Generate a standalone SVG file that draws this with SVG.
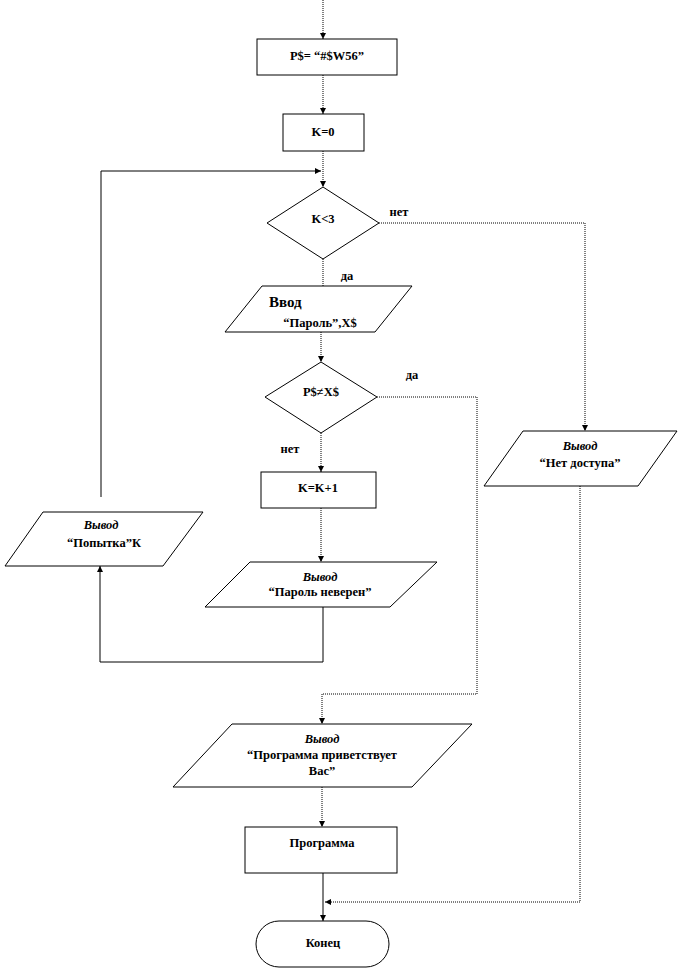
<svg xmlns="http://www.w3.org/2000/svg" width="681" height="970" viewBox="0 0 681 970">
<defs>
<marker id="arr" viewBox="0 0 8 8" refX="8" refY="4" markerWidth="6" markerHeight="6" orient="auto" markerUnits="userSpaceOnUse">
<path d="M0,0 L8,4 L0,8 Z" fill="#000"/>
</marker>
</defs>
<style>
.s{fill:#fff;stroke:#000;stroke-width:1}
.t{font-family:"Liberation Serif","Times New Roman",serif;font-size:12.5px;font-weight:bold;fill:#000;text-anchor:middle}
.i{font-style:italic}
.c{fill:none;stroke:#000;stroke-width:1}
.d{stroke-dasharray:1 1}
</style>
<rect width="681" height="970" fill="#fff"/>
<g id="connectors">
<path class="c d" d="M323,0 V39" marker-end="url(#arr)"/>
<path class="c d" d="M323,75 V114" marker-end="url(#arr)"/>
<path class="c d" d="M323,151 V187" marker-end="url(#arr)"/>
<path class="c" d="M101,497 V171 H321" marker-end="url(#arr)"/>
<path class="c d" d="M379,223 H585 V431" marker-end="url(#arr)"/>
<path class="c d" d="M323,259 V286"/>
<path class="c d" d="M321,332 V362" marker-end="url(#arr)"/>
<path class="c d" d="M377,397 H477 V694 H322 V724" marker-end="url(#arr)"/>
<path class="c d" d="M321,433 V472" marker-end="url(#arr)"/>
<path class="c d" d="M321,508 V562" marker-end="url(#arr)"/>
<path class="c" d="M323,607 V662 H100 V566" marker-end="url(#arr)"/>
<path class="c d" d="M322,787 V827" marker-end="url(#arr)"/>
<path class="c" d="M323,873 V921" marker-end="url(#arr)"/>
<path class="c d" d="M580,486 V902 H325" marker-end="url(#arr)"/>
</g>
<g id="assign-p">
<rect class="s" x="257" y="39" width="140" height="36"/>
<text class="t" x="327" y="60">P$= “#$W56”</text>
</g>
<g id="init-k">
<rect class="s" x="283" y="114" width="81" height="37"/>
<text class="t" x="323" y="136">K=0</text>
</g>
<g id="cond-k">
<polygon class="s" points="323,187 379,223 323,259 267,223"/>
<text class="t" x="323" y="223">K&lt;3</text>
</g>
<text class="t" x="399" y="216">нет</text>
<text class="t" x="347" y="280">да</text>
<g id="input">
<polygon class="s" points="262,286 412,286 375,332 225,332"/>
<text class="t" x="269" y="307" style="text-anchor:start;font-size:15px">Ввод</text>
<text class="t" x="320" y="327">“Пароль”,X$</text>
</g>
<g id="cond-p">
<polygon class="s" points="321,362 377,397 321,433 265,397"/>
<text class="t" x="321" y="396">P$≠X$</text>
</g>
<text class="t" x="412" y="379">да</text>
<text class="t" x="290" y="453">нет</text>
<g id="inc-k">
<rect class="s" x="261" y="472" width="115" height="36"/>
<text class="t" x="318" y="492">K=K+1</text>
</g>
<g id="out-wrong">
<polygon class="s" points="250,562 437,562 390,607 205,607"/>
<text class="t i" x="320" y="581">Вывод</text>
<text class="t" x="320" y="596">“Пароль неверен”</text>
</g>
<g id="out-try">
<polygon class="s" points="43,512 203,512 163,566 5,566"/>
<text class="t i" x="101" y="529">Вывод</text>
<text class="t" x="104" y="547">“Попытка”К</text>
</g>
<g id="out-noaccess">
<polygon class="s" points="523,431 677,431 638,486 484,486"/>
<text class="t i" x="580" y="450">Вывод</text>
<text class="t" x="580" y="467">“Нет доступа”</text>
</g>
<g id="out-welcome">
<polygon class="s" points="232,724 472,724 412,787 173,787"/>
<text class="t i" x="322" y="743">Вывод</text>
<text class="t" x="322" y="759">“Программа приветствует</text>
<text class="t" x="322" y="775">Вас”</text>
</g>
<g id="program">
<rect class="s" x="245" y="827" width="152" height="46"/>
<text class="t" x="322" y="847">Программа</text>
</g>
<g id="end">
<rect class="s" x="256" y="921" width="133" height="46" rx="23" ry="23"/>
<text class="t" x="323" y="947">Конец</text>
</g>
</svg>
